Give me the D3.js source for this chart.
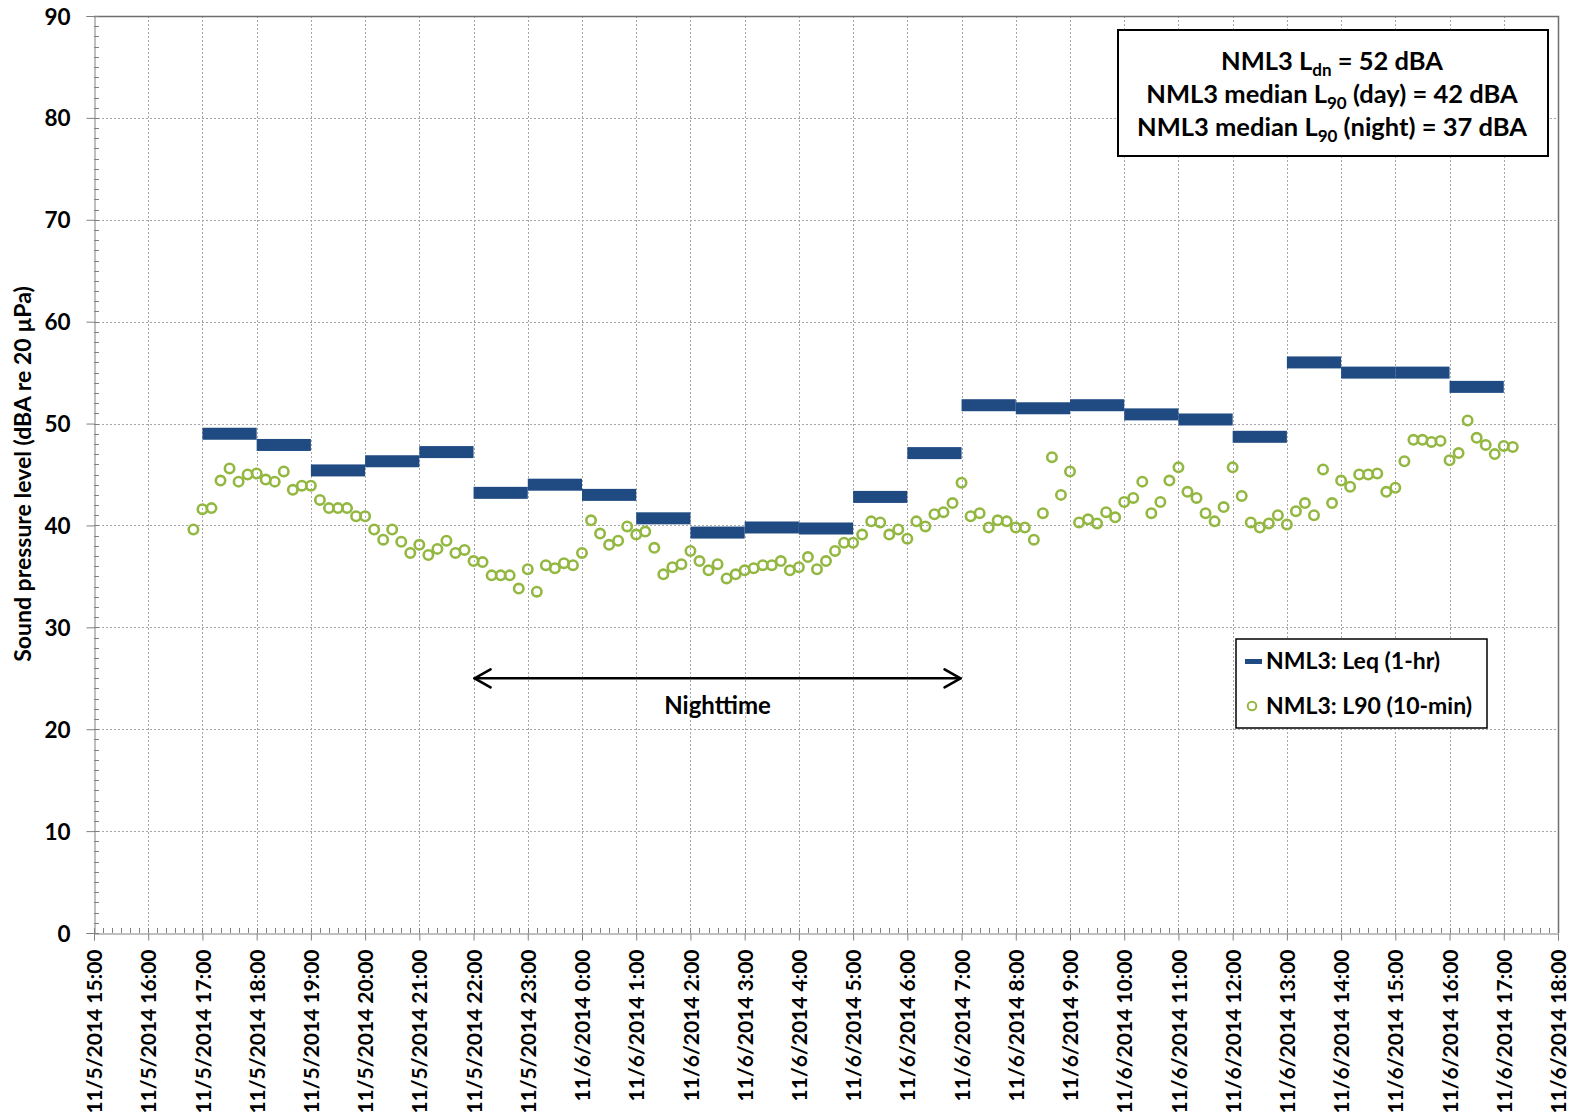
<!DOCTYPE html>
<html>
<head>
<meta charset="utf-8">
<script src="https://cdn.jsdelivr.net/npm/d3@7"></script>
<style>
  html, body { margin: 0; padding: 0; background: #fff; }
  svg { display: block; font-family: Lato, "Open Sans", sans-serif; font-weight: bold; }
</style>
</head>
<body>
<svg id="chart" width="1575" height="1114"></svg>
<script>
// Hourly Leq periods (start hour of each 1-hr block) and levels, dBA
const leqStarts = [
  "2014-11-05 17:00", "2014-11-05 18:00", "2014-11-05 19:00", "2014-11-05 20:00",
  "2014-11-05 21:00", "2014-11-05 22:00", "2014-11-05 23:00", "2014-11-06 00:00",
  "2014-11-06 01:00", "2014-11-06 02:00", "2014-11-06 03:00", "2014-11-06 04:00",
  "2014-11-06 05:00", "2014-11-06 06:00", "2014-11-06 07:00", "2014-11-06 08:00",
  "2014-11-06 09:00", "2014-11-06 10:00", "2014-11-06 11:00", "2014-11-06 12:00",
  "2014-11-06 13:00", "2014-11-06 14:00", "2014-11-06 15:00", "2014-11-06 16:00"
];
const leqValues = [
  49.0, 47.9, 45.4, 46.3, 47.2, 43.2, 44.0, 43.0,
  40.7, 39.3, 39.8, 39.7, 42.8, 47.1, 51.8, 51.5,
  51.8, 50.9, 50.4, 48.7, 56.0, 55.0, 55.0, 53.6
];

// 10-minute L90 samples, first sample time and step
const l90First = "2014-11-05 16:50";
const l90StepMinutes = 10;
const l90Values = [
  39.6, 41.6, 41.7, 44.4, 45.6, 44.3, 45.0, 45.1, 44.5, 44.3,
  45.3, 43.5, 43.9, 43.9, 42.5, 41.7, 41.7, 41.7, 40.9, 40.9,
  39.6, 38.6, 39.6, 38.4, 37.3, 38.1, 37.1, 37.7, 38.5, 37.3,
  37.6, 36.5, 36.4, 35.1, 35.1, 35.1, 33.8, 35.7, 33.5, 36.1,
  35.8, 36.3, 36.1, 37.3, 40.5, 39.2, 38.1, 38.5, 39.9, 39.1,
  39.4, 37.8, 35.2, 35.9, 36.2, 37.5, 36.5, 35.6, 36.2, 34.8,
  35.2, 35.6, 35.8, 36.1, 36.1, 36.5, 35.6, 35.9, 36.9, 35.7,
  36.5, 37.5, 38.3, 38.3, 39.1, 40.4, 40.3, 39.1, 39.6, 38.7,
  40.4, 39.9, 41.1, 41.3, 42.2, 44.2, 40.9, 41.2, 39.8, 40.5,
  40.4, 39.8, 39.8, 38.6, 41.2, 46.7, 43.0, 45.3, 40.3, 40.6,
  40.2, 41.3, 40.8, 42.3, 42.7, 44.3, 41.2, 42.3, 44.4, 45.7,
  43.3, 42.7, 41.2, 40.4, 41.8, 45.7, 42.9, 40.3, 39.8, 40.2,
  41.0, 40.1, 41.4, 42.2, 41.0, 45.5, 42.2, 44.4, 43.8, 45.0,
  45.0, 45.1, 43.3, 43.7, 46.3, 48.4, 48.4, 48.2, 48.3, 46.4,
  47.1, 50.3, 48.6, 47.9, 47.0, 47.8, 47.7
];

// Axis settings
const xDomain = ["2014-11-05 15:00", "2014-11-06 18:00"];
const yTicks = [0, 10, 20, 30, 40, 50, 60, 70, 80, 90];
const nightSpan = ["2014-11-05 22:00", "2014-11-06 07:00"];
const nightLevel = 25;

const yTitle = "Sound pressure level (dBA re 20 µPa)";
const legendLabels = ["NML3: Leq (1-hr)", "NML3: L90 (10-min)"];
const summaryLines = [
  [["NML3 L", ""], ["dn", "sub"], [" = 52 dBA", ""]],
  [["NML3 median L", ""], ["90", "sub"], [" (day) = 42 dBA", ""]],
  [["NML3 median L", ""], ["90", "sub"], [" (night) = 37 dBA", ""]]
];

const parse = d3.timeParse("%Y-%m-%d %H:%M");
const fmt = d3.timeFormat("%-m/%-d/%Y %-H:%M");

const leqColor = "#1f4a82";
const l90Color = "#93b842";

const svg = d3.select("#chart");
const plotLeft = 94, plotRight = 1558, plotTop = 16, plotBottom = 933;

const x = d3.scaleTime().domain(xDomain.map(parse)).range([plotLeft, plotRight]);
const y = d3.scaleLinear().domain([0, 90]).range([plotBottom, plotTop]);

const hours = d3.timeHour.range(x.domain()[0], d3.timeMinute.offset(x.domain()[1], 1));
const tenMin = d3.timeMinute.every(10).range(x.domain()[0], x.domain()[1]);

// Grid
const grid = svg.append("g").attr("stroke", "#a6a6a6").attr("stroke-width", 1)
  .attr("stroke-dasharray", "2,2");
grid.selectAll("line.v").data(hours.slice(1)).join("line")
  .attr("x1", d => Math.round(x(d)) + 0.5).attr("x2", d => Math.round(x(d)) + 0.5)
  .attr("y1", plotTop).attr("y2", plotBottom);
grid.selectAll("line.h").data(yTicks.slice(1)).join("line")
  .attr("x1", plotLeft).attr("x2", plotRight)
  .attr("y1", d => Math.round(y(d)) + 0.5).attr("y2", d => Math.round(y(d)) + 0.5);

// Plot frame (top and right)
svg.append("path")
  .attr("d", `M${plotLeft},${plotTop + 0.5}H${plotRight + 0.5}V${plotBottom}`)
  .attr("fill", "none").attr("stroke", "#6e6e6e").attr("stroke-width", 1.5);

// Minor ticks
const minor = svg.append("g").attr("stroke", "#808080").attr("stroke-width", 1);
minor.selectAll("line.mx").data(tenMin).join("line")
  .attr("x1", d => Math.round(x(d)) + 0.5).attr("x2", d => Math.round(x(d)) + 0.5)
  .attr("y1", plotBottom).attr("y2", plotBottom - 5);
minor.selectAll("line.my").data(d3.range(0, 91)).join("line")
  .attr("x1", plotLeft).attr("x2", plotLeft + 5)
  .attr("y1", d => Math.round(y(d)) + 0.5).attr("y2", d => Math.round(y(d)) + 0.5);

// Y axis
const yAxis = svg.append("g").attr("transform", `translate(${plotLeft + 0.5},0)`)
  .call(d3.axisLeft(y).tickValues(yTicks).tickSize(8).tickPadding(16).tickFormat(d3.format("d")));
yAxis.select(".domain").attr("stroke", "#808080");
yAxis.selectAll(".tick line").attr("stroke", "#808080");
yAxis.selectAll(".tick text").attr("font-size", 22.5).attr("font-weight", "bold")
  .attr("font-family", "Lato, sans-serif").attr("fill", "#000").attr("dy", "0.36em");

// X axis
const xAxis = svg.append("g").attr("transform", `translate(0,${plotBottom + 0.5})`)
  .call(d3.axisBottom(x).tickValues(hours).tickSize(7).tickFormat(fmt));
xAxis.select(".domain").attr("stroke", "#808080");
xAxis.selectAll(".tick line").attr("stroke", "#808080");
xAxis.selectAll(".tick text")
  .attr("font-size", 21).attr("font-weight", "bold").attr("font-family", "Lato, sans-serif")
  .attr("fill", "#000")
  .attr("transform", "rotate(-90)")
  .attr("text-anchor", "end")
  .attr("x", -16).attr("y", 0).attr("dy", "0.36em");

// Y axis title
svg.append("text")
  .attr("transform", `translate(31,474) rotate(-90)`)
  .attr("text-anchor", "middle")
  .attr("font-size", 23)
  .text(yTitle);

// Leq bars (one per hour)
const leqData = leqStarts.map((s, i) => ({ t0: parse(s), t1: d3.timeHour.offset(parse(s), 1), v: leqValues[i] }));
svg.append("g").selectAll("rect").data(leqData).join("rect")
  .attr("x", d => x(d.t0)).attr("width", d => x(d.t1) - x(d.t0))
  .attr("y", d => y(d.v) - 6).attr("height", 12)
  .attr("fill", leqColor);

// L90 points
const l90Start = parse(l90First);
const l90Data = l90Values.map((v, i) => ({ t: d3.timeMinute.offset(l90Start, i * l90StepMinutes), v }));
svg.append("g").selectAll("circle").data(l90Data).join("circle")
  .attr("cx", d => x(d.t)).attr("cy", d => y(d.v)).attr("r", 4.7)
  .attr("fill", "none").attr("stroke", l90Color).attr("stroke-width", 2.6);

// Nighttime arrow
const nx0 = x(parse(nightSpan[0])), nx1 = x(parse(nightSpan[1])), ny = y(nightLevel);
const arrow = svg.append("g").attr("stroke", "#000").attr("fill", "none")
  .attr("stroke-width", 2.6).attr("stroke-linecap", "round").attr("stroke-linejoin", "round");
arrow.append("line").attr("x1", nx0 + 1).attr("x2", nx1 - 1).attr("y1", ny).attr("y2", ny);
arrow.append("path").attr("d", `M${nx0 + 17},${ny - 9}L${nx0 + 1},${ny}L${nx0 + 17},${ny + 9}`);
arrow.append("path").attr("d", `M${nx1 - 17},${ny - 9}L${nx1 - 1},${ny}L${nx1 - 17},${ny + 9}`);
svg.append("text").attr("x", (nx0 + nx1) / 2).attr("y", ny + 36)
  .attr("text-anchor", "middle").attr("font-size", 24).text("Nighttime");

// Summary box
svg.append("rect").attr("x", 1118).attr("y", 30).attr("width", 430).attr("height", 126)
  .attr("fill", "#fff").attr("stroke", "#000").attr("stroke-width", 2);
const summaryBase = [70, 103, 136];
summaryLines.forEach((parts, i) => {
  const t = svg.append("text").attr("x", 1332).attr("y", summaryBase[i])
    .attr("text-anchor", "middle").attr("font-size", 25.5);
  parts.forEach(([txt, kind], j) => {
    if (kind === "sub") {
      t.append("tspan").attr("font-size", 17).attr("dy", 6).text(txt);
    } else {
      const ts = t.append("tspan").text(txt);
      if (j > 0) ts.attr("dy", -6);
    }
  });
});

// Legend
svg.append("rect").attr("x", 1236).attr("y", 639).attr("width", 251).attr("height", 89)
  .attr("fill", "#fff").attr("stroke", "#000").attr("stroke-width", 1.5);
svg.append("rect").attr("x", 1245).attr("y", 659).attr("width", 17).attr("height", 5)
  .attr("fill", leqColor);
svg.append("circle").attr("cx", 1252).attr("cy", 706).attr("r", 4.3)
  .attr("fill", "none").attr("stroke", l90Color).attr("stroke-width", 2);
svg.append("text").attr("x", 1266).attr("y", 669).attr("font-size", 23).text(legendLabels[0]);
svg.append("text").attr("x", 1266).attr("y", 714).attr("font-size", 23).text(legendLabels[1]);
</script>
</body>
</html>
